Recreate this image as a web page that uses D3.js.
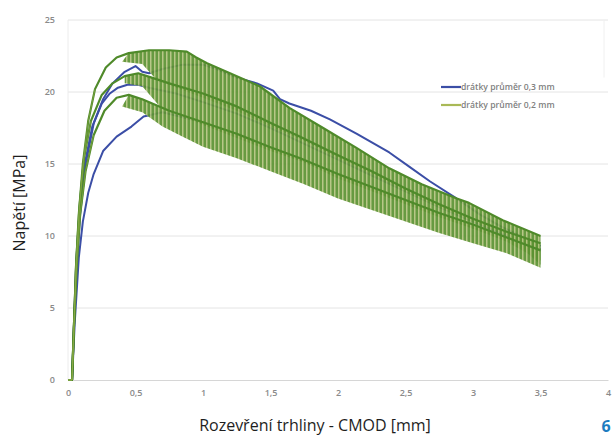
<!DOCTYPE html>
<html><head><meta charset="utf-8">
<script src="https://cdn.jsdelivr.net/npm/d3@7"></script>
<style>html,body{margin:0;padding:0;background:#fff;}svg{display:block;}</style>
</head><body>
<script>
// ---- data ----
const xTicks = [0, 0.5, 1, 1.5, 2, 2.5, 3, 3.5, 4];
const xTickLabels = ["0", "0,5", "1", "1,5", "2", "2,5", "3", "3,5", "4"];
const yTicks = [0, 5, 10, 15, 20, 25];
const yTickLabels = ["0", "5", "10", "15", "20", "25"];
const seriesNames = ["drátky průměr 0,3 mm", "drátky průměr 0,2 mm"];

// blue specimens (wire diameter 0.3 mm)
const blue1 = [[0,0],[0.03,0],[0.045,4],[0.06,8],[0.08,11],[0.12,14.8],[0.18,17.6],[0.26,19.5],[0.33,20.6],[0.42,21.4],[0.5,21.8],[0.55,21.4],[0.6,21.3],[0.7,21.6],[0.85,21.9],[1.0,21.9],[1.1,21.6],[1.25,21.0],[1.4,20.6],[1.52,20.1],[1.57,19.5],[1.64,19.2],[1.8,18.7],[1.94,18.1],[2.14,17.1],[2.38,15.8],[2.53,14.8],[2.68,13.8],[2.88,12.6],[3.05,11.5],[3.2,10.7],[3.35,10.0],[3.5,9.3]];
const blue2 = [[0,0],[0.03,0],[0.045,4],[0.065,8],[0.09,11.5],[0.13,15],[0.19,17.8],[0.25,19.2],[0.31,19.9],[0.37,20.3],[0.44,20.5],[0.52,20.5],[0.6,20.3],[0.8,19.9],[1.0,19.3],[1.25,18.5],[1.5,17.5],[1.75,16.4],[2.0,15.3],[2.25,14.2],[2.5,13.1],[2.75,12.0],[3.0,11.0],[3.25,10.0],[3.5,9.1]];
const blue3 = [[0,0],[0.03,0],[0.05,4],[0.08,8.5],[0.11,11],[0.15,13],[0.19,14.3],[0.26,15.9],[0.36,16.9],[0.47,17.6],[0.56,18.3],[0.7,18.6],[1.0,17.9],[1.25,17.0],[1.5,16.1],[1.75,15.2],[2.0,14.2],[2.25,13.3],[2.5,12.4],[2.75,11.5],[3.0,10.6],[3.25,9.8],[3.5,9.0]];

// green specimens (wire diameter 0.2 mm): upper trace and tips of the downward oscillations
const green1Upper = [[0,0],[0.03,0],[0.045,4],[0.06,8],[0.08,11.5],[0.11,15],[0.15,18],[0.2,20.2],[0.28,21.7],[0.36,22.4],[0.45,22.7],[0.6,22.9],[0.75,22.9],[0.88,22.8],[0.95,22.4],[1.03,22.0],[1.2,21.3],[1.42,20.4],[1.64,18.9],[1.89,17.5],[2.14,16.1],[2.38,14.7],[2.62,13.6],[2.88,12.6],[2.97,12.3],[3.22,11.1],[3.5,10.0]];
const green1Lower = [[0.4,22.1],[0.55,21.95],[0.65,20.9],[0.8,20.3],[1.0,19.6],[1.25,18.7],[1.5,17.6],[1.75,16.6],[2.0,15.4],[2.25,14.3],[2.5,13.1],[2.75,12.0],[3.0,11.0],[3.25,10.1],[3.5,8.0]];
const green2Upper = [[0,0],[0.03,0],[0.045,4],[0.06,8],[0.085,12],[0.12,15.5],[0.17,18],[0.25,19.8],[0.33,20.6],[0.42,21.1],[0.52,21.3],[0.62,21.0],[0.75,20.6],[1.0,19.9],[1.25,19.0],[1.49,17.9],[1.72,16.9],[2.0,15.6],[2.25,14.5],[2.5,13.3],[2.75,12.2],[3.0,11.2],[3.25,10.3],[3.5,9.5]];
const green2Lower = [[0.42,20.6],[0.55,20.4],[0.68,19.0],[0.85,18.3],[1.0,17.7],[1.25,16.8],[1.5,15.9],[1.75,15.1],[2.0,14.0],[2.25,13.1],[2.5,12.2],[2.75,11.3],[3.0,10.5],[3.25,9.6],[3.5,8.3]];
const green3Upper = [[0,0],[0.03,0],[0.045,4],[0.065,8],[0.09,11.5],[0.13,14.5],[0.19,17],[0.27,18.7],[0.36,19.6],[0.45,19.8],[0.55,19.5],[0.75,18.7],[1.0,17.9],[1.25,17.1],[1.49,16.2],[1.72,15.4],[2.0,14.3],[2.25,13.4],[2.5,12.5],[2.75,11.6],[3.0,10.8],[3.25,9.9],[3.5,9.0]];
const green3Lower = [[0.4,19.0],[0.55,18.6],[0.7,17.6],[0.85,16.9],[1.0,16.2],[1.25,15.4],[1.5,14.5],[1.75,13.6],[2.0,12.6],[2.25,11.8],[2.5,11.0],[2.75,10.2],[3.0,9.5],[3.25,8.8],[3.5,7.8]];

// ---- drawing ----
const W = 616, H = 437;
const svg = d3.select("body").append("svg").attr("width", W).attr("height", H);
const x = d3.scaleLinear().domain([0, 4]).range([68, 608]);
const y = d3.scaleLinear().domain([0, 25]).range([380, 20]);

const defs = svg.append("defs");
const pat = defs.append("pattern").attr("id", "hatch").attr("patternUnits", "userSpaceOnUse")
  .attr("width", 4).attr("height", 4);
pat.append("rect").attr("width", 4).attr("height", 4).attr("fill", "#5c9233");
pat.append("rect").attr("x", 2).attr("width", 1.5).attr("height", 4).attr("fill", "#c2cc8c").attr("opacity", 0.85);

// gridlines
svg.append("g").selectAll("line").data(yTicks.slice(1)).join("line")
  .attr("x1", x(0)).attr("x2", x(4)).attr("y1", d => y(d)).attr("y2", d => y(d))
  .attr("stroke", "#e4e4e4").attr("stroke-width", 1);
svg.append("line").attr("x1", x(0)).attr("x2", x(0)).attr("y1", y(25)).attr("y2", y(0))
  .attr("stroke", "#ececec");
svg.append("line").attr("x1", x(4) - 4).attr("x2", x(4) - 4).attr("y1", y(25)).attr("y2", y(21))
  .attr("stroke", "#f0f0f0");

// x axis
const xAxis = d3.axisBottom(x).tickValues(xTicks).tickFormat((d, i) => xTickLabels[i]).tickSize(0).tickPadding(10);
const gx = svg.append("g").attr("transform", `translate(0,${y(0)})`).call(xAxis);
gx.select(".domain").attr("stroke", "#d6d6d6");
gx.selectAll("text").attr("font-family", "Open Sans").attr("font-size", 9).attr("font-weight", 600).attr("fill", "#8a8a8a");

// y axis
const yAxis = d3.axisLeft(y).tickValues(yTicks).tickFormat((d, i) => yTickLabels[i]).tickSize(0).tickPadding(13);
const gy = svg.append("g").attr("transform", `translate(${x(0)},0)`).call(yAxis);
gy.select(".domain").remove();
gy.selectAll("text").attr("font-family", "Open Sans").attr("font-size", 9).attr("font-weight", 600).attr("fill", "#8a8a8a");

const line = d3.line().x(d => x(d[0])).y(d => y(d[1]));

// blue series
[blue3, blue2, blue1].forEach(s => {
  svg.append("path").attr("d", line(s)).attr("fill", "none")
    .attr("stroke", "#3b4ea6").attr("stroke-width", 2).attr("stroke-linejoin", "round");
});

// green series: oscillating band + upper trace
const greens = [[green3Upper, green3Lower], [green2Upper, green2Lower], [green1Upper, green1Lower]];
greens.forEach(([up, low]) => {
  const x0 = low[0][0];
  const poly = up.filter(d => d[0] >= x0).concat(low.slice().reverse());
  poly.unshift(low[0]);
  svg.append("path").attr("d", line(poly) + "Z").attr("fill", "url(#hatch)").attr("opacity", 0.93);
});
greens.forEach(([up]) => {
  svg.append("path").attr("d", line(up)).attr("fill", "none")
    .attr("stroke", "#4f8a2a").attr("stroke-width", 2.2).attr("stroke-linejoin", "round");
});
greens.forEach(([up]) => {
  svg.append("path").attr("d", line(up.filter(d => d[0] <= 0.2))).attr("fill", "none")
    .attr("stroke", "#8fae4a").attr("stroke-width", 1).attr("opacity", 0.6);
});

// legend
const legColors = ["#3b4ea6", "#a9b956"];
const leg = svg.append("g");
seriesNames.forEach((n, i) => {
  const yy = 87 + i * 18;
  leg.append("line").attr("x1", 441).attr("x2", 461).attr("y1", yy).attr("y2", yy)
    .attr("stroke", legColors[i]).attr("stroke-width", 2.2);
  leg.append("text").attr("x", 461).attr("y", yy + 3).text(n)
    .attr("font-family", "Open Sans").attr("font-size", 8.6).attr("font-weight", 600).attr("fill", "#7f7f7f");
});

// axis titles
svg.append("text").attr("x", 315).attr("y", 431).attr("text-anchor", "middle")
  .attr("font-family", "Open Sans").attr("font-size", 16).attr("fill", "#1e1e1e")
  .text("Rozevření trhliny - CMOD [mm]");
svg.append("text").attr("transform", "translate(25,203) rotate(-90)").attr("text-anchor", "middle")
  .attr("font-family", "Open Sans").attr("font-size", 16).attr("fill", "#1e1e1e")
  .text("Napětí [MPa]");
svg.append("text").attr("x", 606).attr("y", 432).attr("text-anchor", "middle")
  .attr("font-family", "Open Sans").attr("font-size", 16).attr("font-weight", 700).attr("fill", "#1d7cc0")
  .text("6");
</script>
</body></html>
